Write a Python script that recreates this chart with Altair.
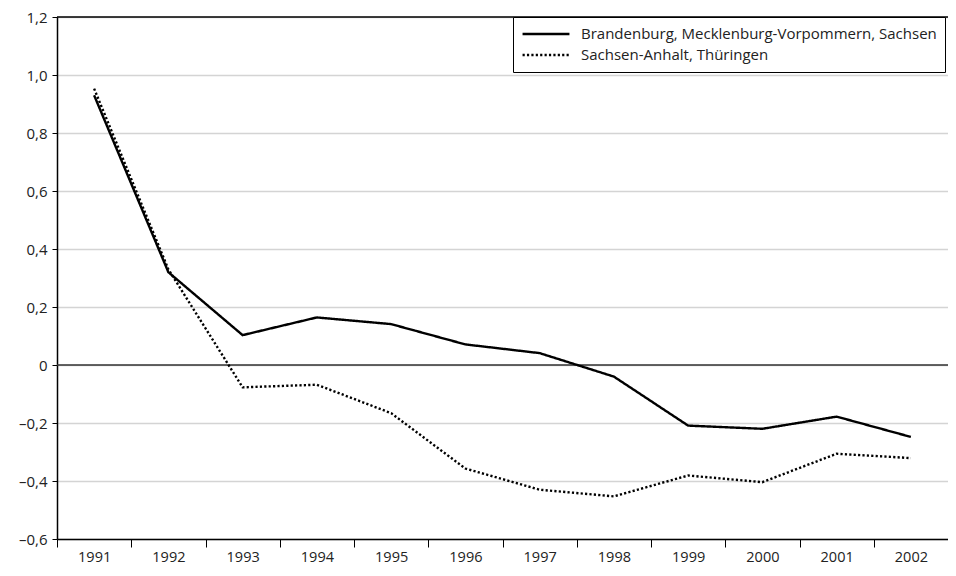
import altair as alt
import pandas as pd

years = ["1991", "1992", "1993", "1994", "1995", "1996", "1997", "1998", "1999", "2000", "2001", "2002"]
series_a_name = "Brandenburg, Mecklenburg-Vorpommern, Sachsen"
series_b_name = "Sachsen-Anhalt, Thüringen"
series_a = [0.93, 0.32, 0.103, 0.164, 0.141, 0.071, 0.041, -0.040, -0.209, -0.220, -0.178, -0.248]
series_b = [0.953, 0.33, -0.077, -0.068, -0.166, -0.357, -0.430, -0.453, -0.381, -0.404, -0.306, -0.321]
y_ticks = [-0.6, -0.4, -0.2, 0.0, 0.2, 0.4, 0.6, 0.8, 1.0, 1.2]
y_min, y_max = -0.6, 1.2

rows = []
for y, v in zip(years, series_a):
    rows.append({"Jahr": y, "Wert": v, "Region": series_a_name})
for y, v in zip(years, series_b):
    rows.append({"Jahr": y, "Wert": v, "Region": series_b_name})
df = pd.DataFrame(rows)

FONT = "Open Sans"

x_enc = alt.X("Jahr:N", sort=years, title=None,
              scale=alt.Scale(paddingInner=0, paddingOuter=0),
              axis=alt.Axis(labelAngle=0, tickBand="extent", tickSize=8, tickColor="black",
                            domainColor="black", domainWidth=1.5, labelFontSize=14.5,
                            labelPadding=3, labelColor="#222", labelFont=FONT, grid=False))

y_scale = alt.Scale(domain=[y_min, y_max], nice=False)

lines = alt.Chart(df).mark_line(color="black", strokeWidth=2.4).encode(
    x=x_enc,
    y=alt.Y("Wert:Q", scale=y_scale, title=None,
            axis=alt.Axis(values=y_ticks, tickSize=5, tickColor="black", domainColor="black",
                          domainWidth=1.5, labelFontSize=15, labelColor="#222", labelFont=FONT,
                          labelPadding=5, gridColor="#d4d4d4", gridWidth=1.5,
                          labelExpr="datum.value == 0 ? '0' : (datum.value < 0 ? '\u2013' : '') + replace(format(abs(datum.value), '.1f'), '.', ',')")),
    strokeDash=alt.StrokeDash("Region:N",
                              scale=alt.Scale(domain=[series_a_name, series_b_name], range=[[1, 0], [2.2, 2.2]]),
                              legend=alt.Legend(title=None, orient="none", legendX=456, legendY=0,
                                                strokeColor="black", fillColor="white", padding=8,
                                                symbolType="stroke", symbolSize=2200, symbolStrokeWidth=2.4,
                                                symbolStrokeColor="black", labelFontSize=15, labelFont=FONT,
                                                labelColor="#222", rowPadding=3, labelOffset=10,
                                                clipHeight=18, labelLimit=600)),
)

zero = alt.Chart(pd.DataFrame({"z": [0]})).mark_rule(color="#333", strokeWidth=1.5).encode(
    y=alt.Y("z:Q", scale=y_scale)
)

top = alt.Chart(pd.DataFrame({"t": [y_max]})).mark_rule(color="black", strokeWidth=1.3).encode(
    y=alt.Y("t:Q", scale=y_scale)
)

chart = alt.layer(zero, top, lines).properties(
    width=891, height=522,
    padding={"left": 49, "top": 9, "right": 0, "bottom": 29},
    autosize=alt.AutoSizeParams(type="none"),
).configure_view(strokeWidth=0).configure(background="white")

chart.save("out.html", embed_options={"renderer": "svg", "actions": False})
